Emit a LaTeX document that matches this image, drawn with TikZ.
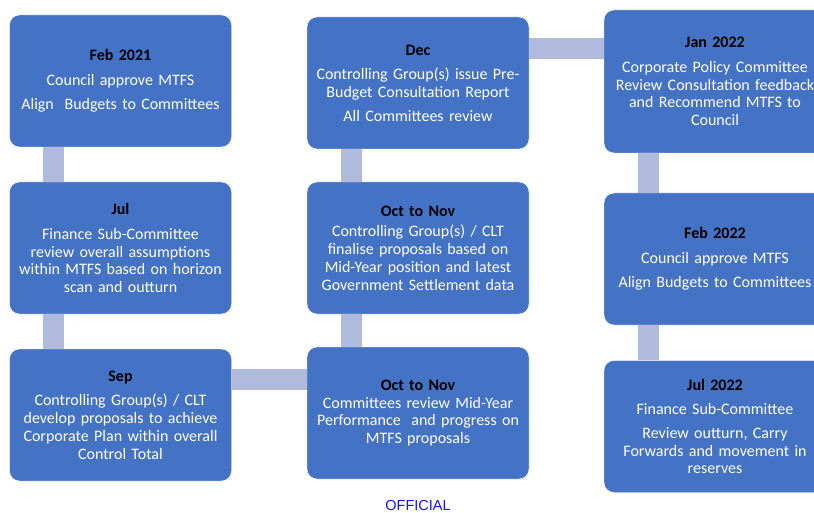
\documentclass[tikz,border=0pt]{standalone}
\usepackage{fontspec}
\setmainfont{Carlito}
\newfontfamily\officialfont{Liberation Sans}
\usepackage{tikz}

\definecolor{stageblue}{RGB}{68,114,196}
\definecolor{linkblue}{RGB}{176,186,220}
\definecolor{officialblue}{RGB}{20,20,240}

\newcommand{\when}[1]{{\color{black}\bfseries #1}}

\tikzset{
  stage/.style={rectangle, rounded corners=10pt, fill=stageblue, draw=white, thin,
    text=white, text width=222pt, inner sep=0pt, minimum height=132pt, align=center,
    font=\fontsize{16}{17.7}\selectfont},
  link/.style={draw=linkblue, line width=21pt, line cap=butt}
}

\begin{document}
\begin{tikzpicture}[x=1pt,y=-1pt]
\useasboundingbox (0,0) rectangle (814,513);
\clip (0,0) rectangle (814,513);
\node[stage] (feb21) at (120.5,81) {\when{Feb 2021}\\[7pt] Council approve MTFS\\[7pt] Align\ \ Budgets to Committees};
\node[stage] (jul) at (120.5,248) {\when{Jul}\\[7pt] Finance Sub-Committee\\ review overall assumptions\\ within MTFS based on horizon\\ scan and outturn};
\node[stage] (sep) at (120.5,415) {\when{Sep}\\[7pt] Controlling Group(s) / CLT\\ develop proposals to achieve\\ Corporate Plan within overall\\ Control Total};
\node[stage] (dec) at (418,83) {\when{Dec}\\[7pt] Controlling Group(s) issue Pre-\\ Budget Consultation Report\\[6pt] All Committees review};
\node[stage] (octa) at (418,248) {\when{Oct to Nov}\\[3pt] Controlling Group(s) / CLT\\ finalise proposals based on\\ Mid-Year position and latest\\ Government Settlement data};
\node[stage] (octb) at (418,413) {\when{Oct to Nov}\\ Committees review Mid-Year\\ Performance\ \ and progress on\\ MTFS proposals};
\node[stage, minimum height=143pt] (jan22) at (715,81.5) {\when{Jan 2022}\\[7pt] Corporate Policy Committee\\ Review Consultation feedback\\ and Recommend MTFS to\\ Council};
\node[stage] (feb22) at (715,259) {\when{Feb 2022}\\[7pt] Council approve MTFS\\[7pt] Align Budgets to Committees};
\node[stage] (jul22) at (715,426.5) {\when{Jul 2022}\\[7pt] Finance Sub-Committee\\[6pt] Review outturn, Carry\\ Forwards and movement in\\ reserves};
\draw[link] ([xshift=44.5pt]feb21.south west) -- ([xshift=44.5pt]jul.north west);
\draw[link] ([xshift=44.5pt]jul.south west) -- ([xshift=44.5pt]sep.north west);
\draw[link] ([yshift=-31pt]sep.north east) -- ([yshift=-33pt]octb.north west);
\draw[link] ([xshift=44.5pt]octb.north west) -- ([xshift=44.5pt]octa.south west);
\draw[link] ([xshift=44.5pt]octa.north west) -- ([xshift=44.5pt]dec.south west);
\draw[link] ([yshift=-31.5pt]dec.north east) -- ([yshift=-38.5pt]jan22.north west);
\draw[link] ([xshift=44.5pt]jan22.south west) -- ([xshift=44.5pt]feb22.north west);
\draw[link] ([xshift=44.5pt]feb22.south west) -- ([xshift=44.5pt]jul22.north west);
\node[text=officialblue, font=\officialfont\fontsize{14.5}{16}\selectfont] (official) at (418,505.5) {OFFICIAL};
\end{tikzpicture}
\end{document}
